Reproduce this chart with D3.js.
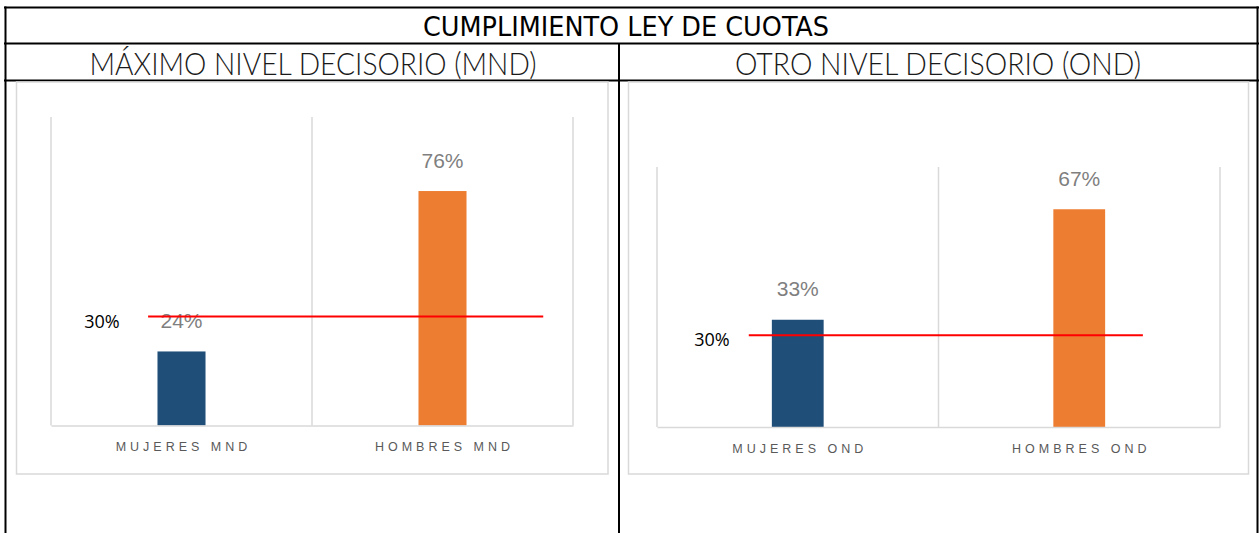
<!DOCTYPE html>
<html>
<head>
<meta charset="utf-8">
<script src="https://cdn.jsdelivr.net/npm/d3@7"></script>
<style>
  html, body { margin: 0; padding: 0; background: #fff; }
  svg { display: block; }
</style>
</head>
<body>
<div id="chart"></div>
<script>
// Chart texts
const title = "CUMPLIMIENTO LEY DE CUOTAS";
const panelTitles = ["MÁXIMO NIVEL DECISORIO (MND)", "OTRO NIVEL DECISORIO (OND)"];

// Data per panel
const mndCategories = ["MUJERES MND", "HOMBRES MND"];
const mndValues = [0.24, 0.76];
const ondCategories = ["MUJERES OND", "HOMBRES OND"];
const ondValues = [0.33, 0.67];

// Quota reference line (30%)
const quotaValue = 0.30;
const quotaLabel = "30%";

// Axis maxima (bars / quota line on its own axis)
const barAxisMax = [1.0, 0.8];
const quotaAxisMax = [0.85, 0.85];

const barColors = ["#1f4e79", "#ed7d31"];

(function () {
  const [w, h] = [1259, 533];

  const svg = d3.select("#chart")
    .append("svg")
    .attr("width", w)
    .attr("height", h);

  // Table frame
  const frame = svg.append("g")
    .attr("stroke", "#000")
    .attr("stroke-width", 2);

  frame.append("line").attr("x1", 4).attr("x2", 1259).attr("y1", 7.5).attr("y2", 7.5);
  frame.append("line").attr("x1", 4).attr("x2", 1259).attr("y1", 43.5).attr("y2", 43.5);
  frame.append("line").attr("x1", 4).attr("x2", 1259).attr("y1", 80.5).attr("y2", 80.5);
  frame.append("line").attr("x1", 5.5).attr("x2", 5.5).attr("y1", 6.5).attr("y2", h);
  frame.append("line").attr("x1", 1257.5).attr("x2", 1257.5).attr("y1", 6.5).attr("y2", h);
  frame.append("line").attr("x1", 619).attr("x2", 619).attr("y1", 43.5).attr("y2", h);

  svg.append("text")
    .attr("x", 626)
    .attr("y", 26)
    .attr("text-anchor", "middle")
    .attr("dominant-baseline", "central")
    .attr("font-family", "'Liberation Sans Narrow', 'DejaVu Sans Condensed', sans-serif")
    .attr("font-size", 27)
    .attr("fill", "#000")
    .attr("textLength", 406)
    .attr("lengthAdjust", "spacingAndGlyphs")
    .text(title);

  // Panel layout
  const panels = [
    {
      title: panelTitles[0], titleX: 313, titleW: 447,
      categories: mndCategories, values: mndValues,
      barMax: barAxisMax[0], quotaMax: quotaAxisMax[0],
      card: { x: 16.5, y: 82, w: 591.5, h: 392 },
      plot: { x0: 51, x1: 573, top: 117, base: 425.5 },
      quotaSpan: [0.186, 0.943], quotaLabelX: 102
    },
    {
      title: panelTitles[1], titleX: 938, titleW: 406,
      categories: ondCategories, values: ondValues,
      barMax: barAxisMax[1], quotaMax: quotaAxisMax[1],
      card: { x: 628.5, y: 82, w: 620, h: 392 },
      plot: { x0: 657, x1: 1220, top: 167, base: 427 },
      quotaSpan: [0.163, 0.863], quotaLabelX: 712
    }
  ];

  panels.forEach((p) => {
    // Panel header
    svg.append("text")
      .attr("x", p.titleX)
      .attr("y", 63)
      .attr("text-anchor", "middle")
      .attr("dominant-baseline", "central")
      .attr("font-family", "Lato, Roboto, sans-serif")
      .attr("font-weight", 300)
      .attr("font-size", 31)
      .attr("fill", "#1a1a1a")
      .attr("textLength", p.titleW)
      .attr("lengthAdjust", "spacingAndGlyphs")
      .text(p.title);

    // Chart card
    svg.append("rect")
      .attr("x", p.card.x)
      .attr("y", p.card.y)
      .attr("width", p.card.w)
      .attr("height", p.card.h)
      .attr("fill", "#fff")
      .attr("stroke", "#d9d9d9")
      .attr("stroke-width", 1.5);

    const data = p.categories.map((c, i) => ({ cat: c, value: p.values[i] }));

    const xScale = d3.scaleBand()
      .domain(p.categories)
      .range([p.plot.x0, p.plot.x1])
      .paddingInner(0.816)
      .paddingOuter(0.408);

    const yScale = d3.scaleLinear()
      .domain([0, p.barMax])
      .range([p.plot.base, p.plot.top]);

    const yQuota = d3.scaleLinear()
      .domain([0, p.quotaMax])
      .range([p.plot.base, p.plot.top]);

    const span = d3.scaleLinear()
      .domain([0, 1])
      .range([p.plot.x0, p.plot.x1]);

    // Category separators (vertical gridlines)
    const bounds = d3.range(p.categories.length + 1)
      .map((i) => p.plot.x0 + i * xScale.step());

    svg.append("g")
      .selectAll("line")
      .data(bounds)
      .enter()
      .append("line")
      .attr("x1", (d) => d)
      .attr("x2", (d) => d)
      .attr("y1", p.plot.top)
      .attr("y2", p.plot.base)
      .attr("stroke", "#d9d9d9")
      .attr("stroke-width", 1.5);

    // Bars
    svg.append("g")
      .selectAll("rect")
      .data(data)
      .enter()
      .append("rect")
      .attr("x", (d) => xScale(d.cat))
      .attr("y", (d) => yScale(d.value))
      .attr("width", xScale.bandwidth())
      .attr("height", (d) => p.plot.base - yScale(d.value))
      .attr("fill", (d, i) => barColors[i]);

    // Category axis
    const xAxis = d3.axisBottom(xScale).tickSize(0).tickPadding(17);
    const axisG = svg.append("g")
      .attr("transform", `translate(2, ${p.plot.base})`)
      .call(xAxis);

    axisG.select(".domain")
      .attr("stroke", "#d9d9d9")
      .attr("stroke-width", 1.5)
      .attr("transform", "translate(-2, 0)");

    axisG.selectAll(".tick text")
      .attr("font-family", "'Liberation Sans', Arial, sans-serif")
      .attr("font-size", 12.5)
      .attr("letter-spacing", 4)
      .attr("fill", "#595959");

    // Value labels
    svg.append("g")
      .selectAll("text")
      .data(data)
      .enter()
      .append("text")
      .attr("x", (d) => xScale(d.cat) + xScale.bandwidth() / 2)
      .attr("y", (d) => yScale(d.value) - 31)
      .attr("text-anchor", "middle")
      .attr("dominant-baseline", "central")
      .attr("font-family", "'Liberation Sans', Arial, sans-serif")
      .attr("font-size", 21)
      .attr("fill", "#7f7f7f")
      .text((d) => d3.format(".0%")(d.value));

    // Quota line
    svg.append("line")
      .attr("x1", span(p.quotaSpan[0]))
      .attr("x2", span(p.quotaSpan[1]))
      .attr("y1", yQuota(quotaValue))
      .attr("y2", yQuota(quotaValue))
      .attr("stroke", "#ff0000")
      .attr("stroke-width", 2);

    svg.append("text")
      .attr("x", p.quotaLabelX)
      .attr("y", yQuota(quotaValue) + 4)
      .attr("text-anchor", "middle")
      .attr("dominant-baseline", "central")
      .attr("font-family", "'Open Sans', sans-serif")
      .attr("font-size", 18)
      .attr("fill", "#000")
      .text(quotaLabel);
  });
})();
</script>
</body>
</html>
